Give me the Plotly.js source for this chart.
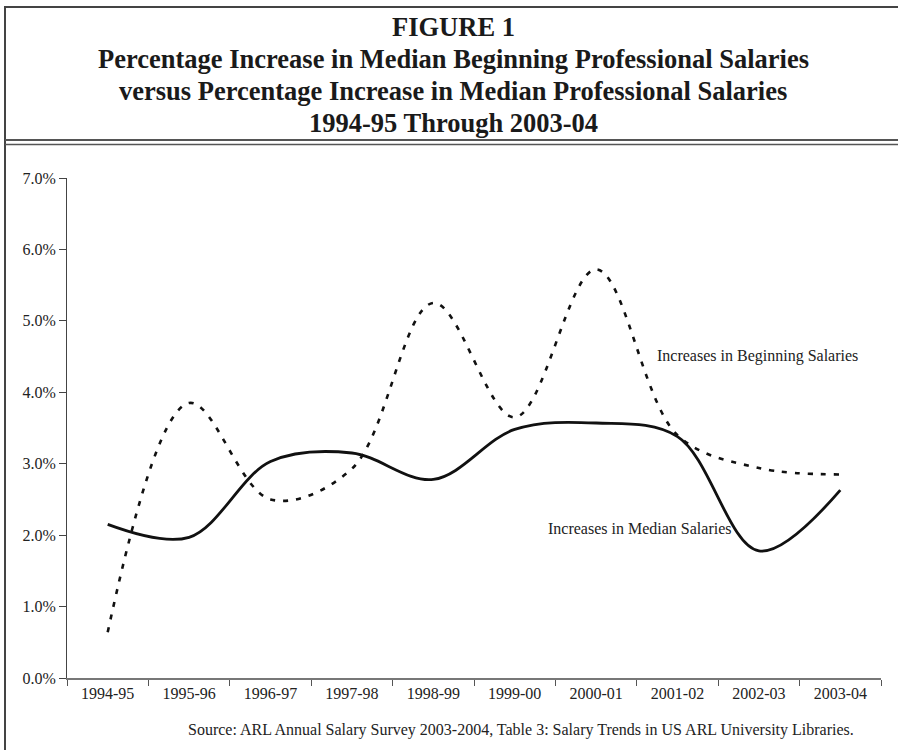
<!DOCTYPE html>
<html>
<head>
<meta charset="utf-8">
<script src="https://cdn.plot.ly/plotly-3.0.1.min.js"></script>
<style>
html,body{margin:0;padding:0;background:#fff;}
#chart{width:898px;height:750px;}
</style>
</head>
<body>
<div id="chart"></div>
<script>
// ---- data (percent) ----
var years = ["1994-95","1995-96","1996-97","1997-98","1998-99","1999-00","2000-01","2001-02","2002-03","2003-04"];
var beginningIncrease = [0.64, 3.85, 2.50, 2.93, 5.25, 3.65, 5.72, 3.40, 2.94, 2.85];
var medianIncrease    = [2.15, 1.97, 3.03, 3.15, 2.78, 3.48, 3.57, 3.38, 1.78, 2.63];
var yTicks = [0, 1, 2, 3, 4, 5, 6, 7];
var yTickLabels = ["0.0%","1.0%","2.0%","3.0%","4.0%","5.0%","6.0%","7.0%"];

var titleLines = [
  "FIGURE 1",
  "Percentage Increase in Median Beginning Professional Salaries",
  "versus Percentage Increase in Median Professional Salaries",
  "1994-95 Through 2003-04"
];
var sourceText = "Source: ARL Annual Salary Survey 2003-2004, Table 3: Salary Trends in US ARL University Libraries.";

// ---- layout helpers (pixel -> paper) ----
var W = 898, H = 750;
var mL = 67, mR = W - 881, mT = 178, mB = H - 678;
var pw = W - mL - mR, ph = H - mT - mB;
function px(x){ return (x - mL) / pw; }
function py(y){ return (H - mB - y) / ph; }

var serif = "Liberation Serif";

var traces = [
  {
    x: years, y: beginningIncrease, type: "scatter", mode: "lines",
    line: {color: "#111", width: 2.6, dash: "5px,8px", shape: "spline", smoothing: 1},
    hoverinfo: "skip", showlegend: false
  },
  {
    x: years, y: medianIncrease, type: "scatter", mode: "lines",
    line: {color: "#111", width: 2.8, shape: "spline", smoothing: 1},
    hoverinfo: "skip", showlegend: false
  }
];

var titleY = [27, 59, 91, 123];
var annotations = titleLines.map(function(t, i){
  return {
    xref: "paper", yref: "paper", x: px(453), y: py(titleY[i]),
    xanchor: "center", yanchor: "middle", showarrow: false,
    text: "<b>" + t + "</b>",
    font: {family: serif, size: 26.5, color: "#1a1a1a"}
  };
});
annotations.push({
  xref: "paper", yref: "paper", x: px(655), y: py(356),
  xanchor: "left", yanchor: "middle", showarrow: false,
  text: "Increases in Beginning Salaries",
  font: {family: serif, size: 16, color: "#222"}
});
annotations.push({
  xref: "paper", yref: "paper", x: px(733), y: py(528),
  xanchor: "right", yanchor: "middle", showarrow: false,
  text: "Increases in Median Salaries",
  font: {family: serif, size: 16, color: "#222"}
});
annotations.push({
  xref: "paper", yref: "paper", x: px(856), y: py(730),
  xanchor: "right", yanchor: "middle", showarrow: false,
  text: sourceText,
  font: {family: serif, size: 16, color: "#222"}
});

var shapes = [
  {type: "line", xref: "paper", yref: "paper",
   x0: px(5), x1: px(898), y0: py(7), y1: py(7),
   line: {color: "#444", width: 2}},
  {type: "line", xref: "paper", yref: "paper",
   x0: px(5), x1: px(5), y0: py(6), y1: py(760),
   line: {color: "#444", width: 2}},
  {type: "line", xref: "paper", yref: "paper",
   x0: px(5), x1: px(898), y0: py(140), y1: py(140),
   line: {color: "#555", width: 2}},
  {type: "line", xref: "paper", yref: "paper",
   x0: px(5), x1: px(898), y0: py(144.5), y1: py(144.5),
   line: {color: "#555", width: 1.5}}
];

var layout = {
  width: W, height: H,
  margin: {l: mL, r: mR, t: mT, b: mB, pad: 0},
  paper_bgcolor: "#fff", plot_bgcolor: "#fff",
  showlegend: false,
  font: {family: serif, size: 16, color: "#222"},
  xaxis: {
    type: "category", range: [-0.5, 9.5],
    showgrid: false, zeroline: false,
    showline: true, linecolor: "#777", linewidth: 2,
    ticks: "outside", ticklen: 6, tickcolor: "#555", tickwidth: 1,
    tickson: "boundaries",
    tickfont: {family: serif, size: 16, color: "#222"}
  },
  yaxis: {
    range: [0, 7], tickmode: "array", tickvals: yTicks, ticktext: yTickLabels,
    showgrid: false, zeroline: false,
    showline: true, linecolor: "#444", linewidth: 1,
    ticks: "outside", ticklen: 7, tickcolor: "#444", tickwidth: 1,
    tickfont: {family: serif, size: 16, color: "#222"}
  },
  annotations: annotations,
  shapes: shapes
};

Plotly.newPlot("chart", traces, layout, {staticPlot: true, displayModeBar: false});
</script>
</body>
</html>
